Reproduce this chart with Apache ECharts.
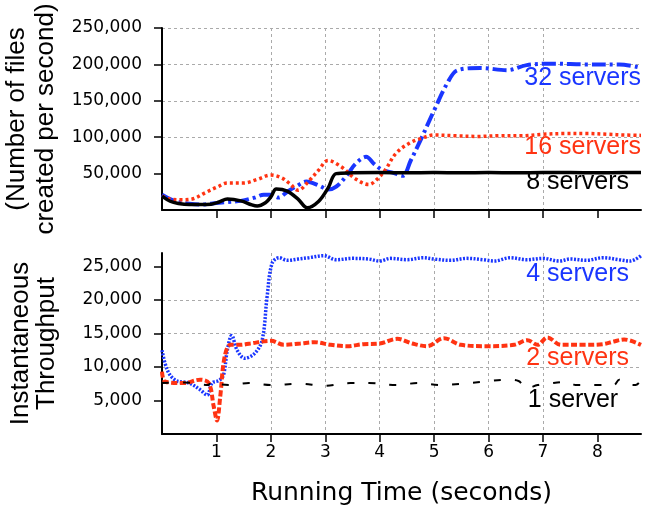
<!DOCTYPE html>
<html>
<head>
<meta charset="utf-8">
<script src="https://cdn.jsdelivr.net/npm/echarts@6/dist/echarts.min.js"></script>
<style>
  html, body { margin: 0; padding: 0; background: #fff; }
  #chart { width: 647px; height: 505px; }
</style>
</head>
<body>
<div id="chart"></div>
<script>
// tick positions
const xTicks = [1, 2, 3, 4, 5, 6, 7, 8]
const topYTicks = [50000, 100000, 150000, 200000, 250000]
const bottomYTicks = [5000, 10000, 15000, 20000, 25000]

// top panel: [seconds, files/s]
const servers32 = [
  [0, 21000], [0.15, 15000], [0.3, 11000], [0.5, 8500], [0.7, 7500], [1.0, 9500],
  [1.2, 11000], [1.45, 12500], [1.7, 17000], [1.87, 21000], [2.0, 21000], [2.14, 17000],
  [2.3, 25000], [2.48, 33000], [2.65, 39000], [2.9, 33000], [3.05, 28000], [3.2, 32000],
  [3.4, 48000], [3.55, 63000], [3.75, 73000], [3.9, 63000], [4.05, 55000], [4.25, 51000],
  [4.42, 47000], [4.57, 68000], [4.75, 96000], [5.0, 137000], [5.24, 174000], [5.43, 192000],
  [5.85, 195000], [6.34, 192000], [6.7, 199000], [7.2, 201000], [7.8, 200000], [8.4, 200000],
  [8.75, 196000]
]
const servers16 = [
  [0, 19000], [0.15, 15000], [0.35, 14000], [0.55, 15000], [0.8, 24000], [1.0, 31000],
  [1.2, 37000], [1.5, 37000], [1.75, 42000], [2.0, 48000], [2.2, 44000], [2.35, 36000],
  [2.5, 27000], [2.7, 40000], [2.88, 55000], [3.05, 68000], [3.3, 59000], [3.55, 43000],
  [3.8, 35000], [3.95, 42000], [4.1, 55000], [4.3, 78000], [4.55, 92000], [4.75, 98000],
  [5.0, 103000], [5.4, 102000], [5.8, 101000], [6.2, 102000], [6.6, 102000], [7.0, 104000],
  [7.4, 105000], [7.8, 105000], [8.2, 104000], [8.5, 103000], [8.8, 102500]
]
const servers8 = [
  [0, 19000], [0.15, 12000], [0.3, 9000], [0.5, 7500], [0.7, 7500], [0.9, 8000],
  [1.05, 11000], [1.2, 15000], [1.45, 12500], [1.65, 7000], [1.75, 5500], [1.9, 10000],
  [2.0, 18000], [2.1, 29000], [2.3, 26000], [2.5, 15000], [2.67, 3000], [2.88, 12000],
  [3.05, 30000], [3.2, 50000], [3.5, 51000], [4, 51500], [4.5, 51000], [5, 51500],
  [5.5, 51000], [6, 51500], [6.5, 51000], [7, 51500], [7.5, 51500], [8, 51000],
  [8.5, 51500], [8.8, 51500]
]

// bottom panel
const servers4 = [
  [0, 12500], [0.1, 9500], [0.25, 8000], [0.5, 7600], [0.7, 6600], [0.83, 5800],
  [0.92, 7600], [1.05, 8000], [1.13, 8800], [1.2, 12500], [1.28, 14700], [1.38, 12500],
  [1.52, 11300], [1.7, 12000], [1.84, 14000], [1.93, 20400], [2.02, 25400], [2.15, 26300],
  [2.3, 25900], [2.5, 26100], [2.7, 26300], [2.97, 26600], [3.2, 26000], [3.5, 26200],
  [3.8, 26100], [4.0, 25800], [4.2, 26200], [4.5, 26000], [4.8, 26300], [5.0, 26100],
  [5.3, 25900], [5.6, 26200], [5.9, 26000], [6.1, 25800], [6.4, 26300], [6.7, 26000],
  [7.0, 26200], [7.3, 25800], [7.5, 26100], [7.8, 25900], [8.1, 26300], [8.4, 26000],
  [8.6, 25800], [8.8, 26600]
]
const servers2 = [
  [0, 9300], [0.06, 7800], [0.4, 7600], [0.7, 8100], [0.86, 7600], [0.95, 4100],
  [1.01, 2000], [1.07, 5600], [1.15, 11500], [1.26, 13300], [1.44, 13300], [1.62, 13500],
  [2.0, 13900], [2.24, 13300], [2.54, 13500], [2.8, 13700], [3.1, 13300], [3.4, 13100],
  [3.7, 13400], [4.0, 13500], [4.32, 14200], [4.6, 13500], [4.87, 13100], [5.18, 14300],
  [5.49, 13300], [5.98, 13100], [6.47, 13300], [6.71, 14000], [6.9, 13300], [7.08, 14400],
  [7.33, 13300], [7.81, 13300], [8.1, 13400], [8.3, 13800], [8.49, 14100], [8.8, 13300]
]
const servers1 = [
  [0, 7600], [0.4, 7700], [0.85, 7300], [0.9, 7900], [1.0, 7500], [1.26, 7300],
  [1.6, 7600], [2.0, 7300], [2.54, 7500], [2.97, 7200], [3.46, 7600], [3.8, 7600],
  [4.32, 7300], [4.69, 7600], [5.12, 7300], [5.5, 7500], [5.91, 7800], [6.34, 8100],
  [6.55, 7900], [6.7, 6800], [6.9, 7300], [7.08, 7500], [7.45, 7800], [7.6, 7300],
  [7.93, 7300], [8.3, 7300], [8.4, 8100], [8.55, 7400], [8.7, 7300], [8.8, 8000]
]

// where each series name is written (right edge of text, middle of text)
const labelNames = ['32 servers', '16 servers', '8 servers', '4 servers', '2 servers', '1 server']
const labelAnchors = [[8.8, 181500], [8.8, 86000], [8.58, 37700], [8.58, 23800], [8.58, 11300], [8.38, 5000]]

const BLUE = '#1a36ff'
const RED = '#ff3312'
const AXIS_FONT = 'DejaVu Sans'
const LABEL_FONT = 'Liberation Sans'

const chart = echarts.init(document.getElementById('chart'))

function fmtNum(v) {
  return v.toLocaleString('en-US')
}

function xAxisFor(gridIndex, withLabels) {
  return {
    type: 'value',
    gridIndex: gridIndex,
    min: 0,
    max: 8.8,
    interval: 1,
    axisLine: { onZero: false, lineStyle: { color: '#000', width: 2 } },
    axisTick: { show: true, length: 8, customValues: xTicks, lineStyle: { color: '#000', width: 1.5 } },
    axisLabel: {
      show: withLabels,
      customValues: xTicks,
      margin: 10,
      color: '#000',
      fontFamily: AXIS_FONT,
      fontSize: 17,
      formatter: v => (v === 0 || v !== Math.round(v)) ? '' : String(v)
    },
    splitLine: {
      show: true,
      showMinLine: false,
      showMaxLine: false,
      lineStyle: { color: '#aaa', width: 1, type: [3, 3] }
    },
    name: withLabels ? 'Running Time (seconds)' : '',
    nameLocation: 'middle',
    nameGap: 47,
    nameTextStyle: { color: '#000', fontFamily: AXIS_FONT, fontSize: 25 }
  }
}

function yAxisFor(gridIndex, max, interval, ticks, name, nameGap, lineHeight) {
  return {
    type: 'value',
    gridIndex: gridIndex,
    min: 0,
    max: max,
    interval: interval,
    axisLine: { show: true, lineStyle: { color: '#000', width: 2 } },
    axisTick: { show: true, length: 8, customValues: ticks, lineStyle: { color: '#000', width: 1.5 } },
    axisLabel: {
      customValues: ticks,
      margin: 20,
      color: '#000',
      fontFamily: AXIS_FONT,
      fontSize: 17,
      formatter: v => (v === 0 || v % interval !== 0) ? '' : fmtNum(v)
    },
    splitLine: {
      show: true,
      showMinLine: false,
      showMaxLine: max % interval === 0,
      lineStyle: { color: '#aaa', width: 1, type: [3, 3] }
    },
    name: name,
    nameLocation: 'middle',
    nameRotate: 90,
    nameGap: nameGap,
    nameTextStyle: { color: '#000', fontFamily: LABEL_FONT, fontSize: 26, lineHeight: lineHeight }
  }
}

function lineSeries(data, axisIndex, color, width, dash, labelIdx) {
  return {
    type: 'line',
    xAxisIndex: axisIndex,
    yAxisIndex: axisIndex,
    data: data,
    smooth: 0.35,
    showSymbol: false,
    symbol: 'none',
    lineStyle: { color: color, width: width, type: dash, cap: 'butt' },
    markPoint: {
      symbol: 'rect',
      symbolSize: 0,
      silent: true,
      label: {
        show: true,
        position: 'left',
        distance: 0,
        color: color,
        fontFamily: LABEL_FONT,
        fontSize: 25,
        formatter: '{b}'
      },
      data: [{ name: labelNames[labelIdx], coord: labelAnchors[labelIdx] }]
    }
  }
}

const option = {
  animation: false,
  backgroundColor: '#fff',
  grid: [
    { left: 162, right: 6, top: 28, height: 182, outerBoundsMode: 'none', containLabel: false },
    { left: 162, right: 6, top: 253, height: 181, outerBoundsMode: 'none', containLabel: false }
  ],
  xAxis: [xAxisFor(0, false), xAxisFor(1, true)],
  yAxis: [
    yAxisFor(0, 250000, 50000, topYTicks, '(Number of files\ncreated per second)', 98, 29),
    yAxisFor(1, 27000, 5000, bottomYTicks, 'Instantaneous\nThroughput', 102, 26)
  ],
  series: [
    lineSeries(servers32, 0, BLUE, 4, [14, 4, 3, 4], 0),
    lineSeries(servers16, 0, RED, 3.5, [3, 3], 1),
    lineSeries(servers8, 0, '#000', 3.5, 'solid', 2),
    lineSeries(servers4, 1, BLUE, 3.5, [2, 1.5], 3),
    lineSeries(servers2, 1, RED, 4, [6, 2.5], 4),
    lineSeries(servers1, 1, '#000', 2, [7, 14], 5)
  ]
}

chart.setOption(option)
window.addEventListener('resize', () => chart.resize())
</script>
</body>
</html>
